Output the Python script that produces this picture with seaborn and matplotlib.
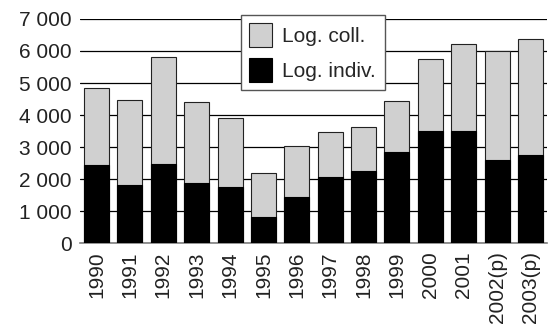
import matplotlib
matplotlib.use("Agg")
import matplotlib.pyplot as plt
import seaborn as sns
import pandas as pd
from matplotlib.ticker import FuncFormatter

years = ["1990", "1991", "1992", "1993", "1994", "1995", "1996", "1997",
         "1998", "1999", "2000", "2001", "2002(p)", "2003(p)"]
indiv = [2430, 1830, 2460, 1870, 1740, 810, 1440, 2050, 2260, 2830, 3500, 3500, 2590, 2760]
coll = [2420, 2640, 3340, 2540, 2170, 1370, 1600, 1410, 1360, 1600, 2260, 2730, 3420, 3630]

df = pd.DataFrame({"annee": years, "indiv": indiv, "coll": coll})
df["total"] = df["indiv"] + df["coll"]

sns.set_style("white")
plt.rcParams["font.family"] = ["Liberation Sans", "DejaVu Sans"]

fig = plt.figure(figsize=(5.51, 3.33), dpi=100)
ax = fig.add_axes([0.145, 0.27, 0.848, 0.673])

sns.barplot(data=df, x="annee", y="total", color="#d0d0d0", saturation=1,
            width=0.75, edgecolor="#222222", linewidth=0.8, ax=ax,
            label="Log. coll.", zorder=3)
sns.barplot(data=df, x="annee", y="indiv", color="black", saturation=1,
            width=0.75, edgecolor="black", linewidth=0.8, ax=ax,
            label="Log. indiv.", zorder=3)

ax.set_ylim(0, 7000)
ax.set_yticks(range(0, 7001, 1000))
ax.yaxis.set_major_formatter(FuncFormatter(lambda v, p: f"{int(v):,}".replace(",", " ")))
ax.yaxis.grid(True, color="black", linewidth=0.9, zorder=0)
ax.set_axisbelow(True)
ax.set_xlim(-0.5, len(years) - 0.5)
ax.set_xlabel("")
ax.set_ylabel("")
for s in ["left", "right", "top"]:
    ax.spines[s].set_visible(False)
ax.spines["bottom"].set_color("#808080")
ax.spines["bottom"].set_linewidth(1.2)
ax.tick_params(axis="y", labelsize=15, length=0, pad=6, colors="#222222")
ax.tick_params(axis="x", labelsize=15, length=0, pad=6, rotation=90, colors="#222222")

leg = ax.legend(loc="upper left", bbox_to_anchor=(0.437, 0.955),
                bbox_transform=fig.transFigure, fontsize=15, frameon=True,
                fancybox=False, edgecolor="#555555", framealpha=1,
                handlelength=1.1, handleheight=1.4, handletextpad=0.5,
                borderpad=0.4, labelspacing=0.5, borderaxespad=0)
leg.get_frame().set_linewidth(1.0)

fig.savefig("out.png", dpi=100)
